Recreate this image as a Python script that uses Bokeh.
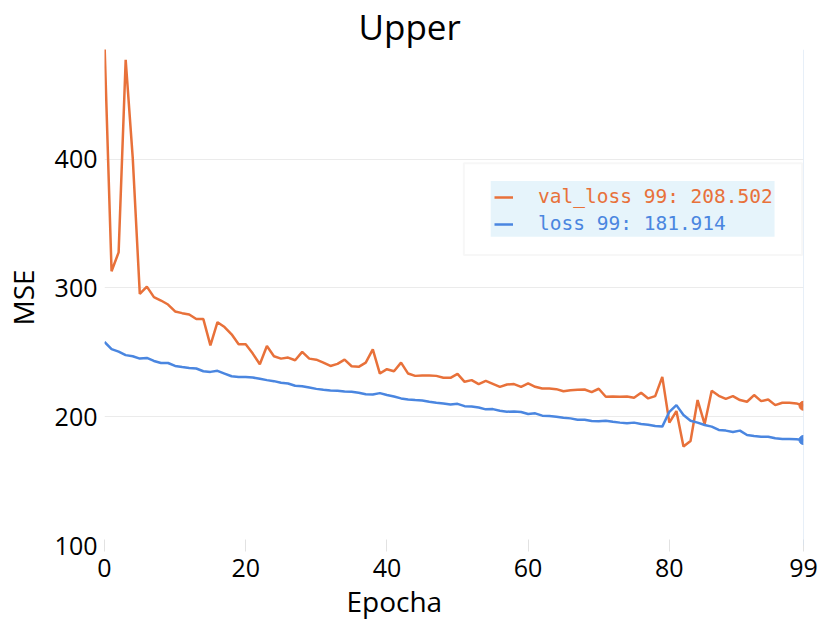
from bokeh.plotting import figure
from bokeh.models import Range1d, FixedTicker, Span, BoxAnnotation, Legend, LegendItem, Title
from bokeh.core.properties import value
from bokeh.embed import file_html
from bokeh.resources import INLINE

# ---------------- data ----------------
epochs = list(range(100))

val_loss = [
    490.0, 312.9, 327.6, 477.1, 401.0, 295.4, 301.0, 292.8, 290.2, 287.1,
    281.7, 280.4, 279.4, 275.8, 275.8, 255.4, 273.4, 269.6, 264.0, 256.2,
    256.2, 249.0, 240.7, 254.9, 246.9, 245.1, 245.9, 243.8, 250.3, 245.1,
    244.3, 242.0, 239.4, 241.0, 244.3, 239.2, 238.7, 242.0, 252.3, 233.5,
    236.9, 235.3, 242.0, 233.5, 231.7, 232.0, 232.0, 231.7, 230.2, 230.2,
    233.3, 227.1, 228.4, 225.3, 227.8, 225.5, 223.2, 225.0, 225.3, 223.2,
    225.8, 223.2, 221.9, 221.9, 221.4, 219.8, 220.6, 220.9, 221.1, 219.1,
    221.7, 215.5, 215.7, 215.5, 215.7, 214.7, 218.6, 214.2, 216.0, 230.9,
    195.4, 204.4, 176.8, 181.2, 212.9, 194.3, 220.1, 216.2, 213.9, 216.0,
    212.9, 211.6, 216.8, 212.1, 213.4, 209.0, 210.8, 210.8, 210.3, 208.502,
]

loss = [
    258.0, 252.5, 250.5, 247.8, 246.9, 245.1, 245.6, 243.3, 241.7, 241.7,
    239.4, 238.6, 237.9, 237.4, 235.3, 234.8, 235.6, 233.5, 231.4, 230.9,
    230.9, 230.4, 229.4, 228.4, 227.6, 226.3, 225.8, 224.0, 223.7, 222.7,
    221.6, 220.9, 220.4, 220.1, 219.5, 219.3, 218.6, 217.5, 217.3, 218.3,
    216.8, 215.7, 214.2, 213.4, 212.9, 212.6, 211.6, 210.9, 210.3, 209.5,
    210.0, 208.2, 208.0, 207.2, 205.7, 205.9, 204.6, 203.9, 204.1, 203.6,
    202.1, 202.6, 200.8, 200.5, 200.0, 199.2, 198.7, 197.7, 197.7, 196.7,
    196.4, 196.9, 196.1, 195.4, 194.9, 195.4, 194.3, 193.8, 192.8, 192.3,
    203.8, 209.0, 201.3, 196.9, 195.4, 193.6, 192.3, 189.7, 189.2, 188.1,
    189.2, 185.8, 185.1, 184.5, 184.5, 183.2, 182.7, 182.7, 182.5, 181.914,
]

x_ticks = [0, 20, 40, 60, 80, 99]
y_ticks = [100, 200, 300, 400]
title_text = "Upper"
x_label = "Epocha"
y_label = "MSE"
val_name = "val_loss"
loss_name = "loss"

# ---------------- style ----------------
ORANGE = "#e8713a"
BLUE = "#4a86e0"
FONT = "Open Sans"
MONO = "DejaVu Sans Mono"

p = figure(width=819, height=619, output_backend="svg", toolbar_location=None,
           x_range=Range1d(0, 99), y_range=Range1d(100, 485.1),
           min_border_left=104, min_border_right=16, min_border_top=45,
           min_border_bottom=73)
p.outline_line_color = None
p.background_fill_color = "white"

# title
p.title.text = title_text
p.title.align = "left"
p.title.offset = 254
p.title.text_font = FONT
p.title.text_font_size = "35px"
p.title.text_font_style = "normal"
p.title.text_color = "black"
p.title.standoff = 0

# axes
for ax in (p.xaxis[0], p.yaxis[0]):
    ax.axis_line_color = None
    ax.minor_tick_line_color = None
    ax.major_label_text_font = FONT
    ax.major_label_text_font_size = "25px"
    ax.major_label_text_color = "black"

p.xaxis.ticker = FixedTicker(ticks=x_ticks)
p.xaxis.major_tick_line_color = "#e2e2e2"
p.xaxis.major_tick_in = 6
p.xaxis.major_tick_out = 6
p.xaxis.major_label_standoff = 7

p.yaxis.ticker = FixedTicker(ticks=y_ticks)
p.yaxis.major_tick_line_color = None
p.yaxis.major_tick_out = 0
p.yaxis.major_tick_in = 0
p.yaxis.major_label_standoff = 7
p.yaxis.axis_label = y_label
p.yaxis.axis_label_text_font = FONT
p.yaxis.axis_label_text_font_size = "28px"
p.yaxis.axis_label_text_font_style = "normal"
p.yaxis.axis_label_text_color = "black"
p.yaxis.axis_label_standoff = 10

xt = Title(text=x_label, align="left", offset=242, text_font=FONT,
           text_font_size="28px", text_font_style="normal", text_color="black",
           standoff=0)
p.add_layout(xt, "below")

p.xgrid.grid_line_color = None
p.ygrid.grid_line_color = "#ebebeb"
p.ygrid.grid_line_width = 1

# hover-like marker line at last epoch
p.add_layout(Span(location=epochs[-1], dimension="height", line_color="#cfe0f1", line_width=1))

# series
r_val = p.line(epochs, val_loss, line_color=ORANGE, line_width=2.5)
r_loss = p.line(epochs, loss, line_color=BLUE, line_width=2.5)
p.scatter([epochs[-1]], [val_loss[-1]], size=9, color=ORANGE)
p.scatter([epochs[-1]], [loss[-1]], size=9, color=BLUE)

# legend boxes
p.add_layout(BoxAnnotation(left=50.9, right=98.8, bottom=325.5, top=396.7,
                           fill_color="white", fill_alpha=1.0,
                           line_color="#e3e3e3", line_width=2))
p.add_layout(BoxAnnotation(left=54.7, right=94.9, bottom=339.7, top=383.0,
                           fill_color="#e6f4fb", fill_alpha=1.0, line_color=None))

val_label = f"{val_name} {epochs[-1]}: {val_loss[-1]:.3f}"
loss_label = f"{loss_name} {epochs[-1]}: {loss[-1]:.3f}"

def make_legend(label, renderer, color, loc):
    return Legend(items=[LegendItem(label=value(label), renderers=[renderer])],
                  location=loc, background_fill_alpha=0, border_line_color=None,
                  padding=4, margin=0, spacing=0, glyph_width=19, glyph_height=20,
                  label_height=20, label_standoff=25, label_text_font=MONO,
                  label_text_font_size="19.5px", label_text_color=color)

p.add_layout(make_legend(val_label, r_val, ORANGE, (390, 337)))
p.add_layout(make_legend(loss_label, r_loss, BLUE, (390, 310)))

open("out.html", "w").write(file_html(p, INLINE))
